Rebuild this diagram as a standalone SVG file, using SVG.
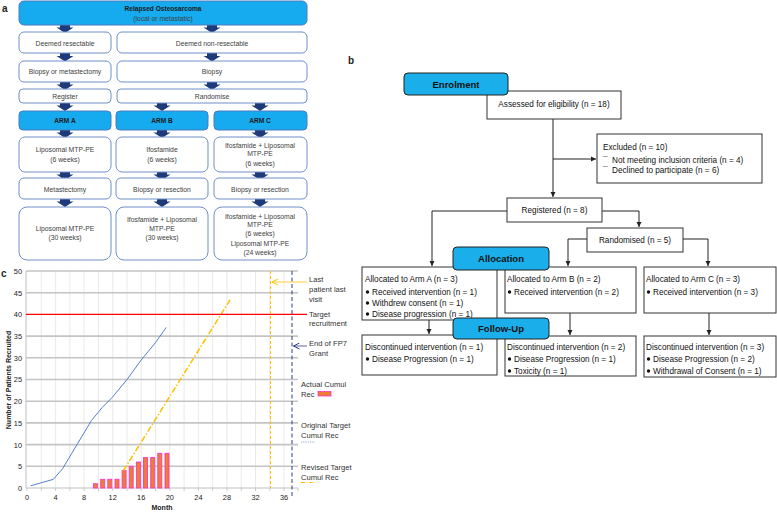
<svg xmlns="http://www.w3.org/2000/svg" xmlns:xlink="http://www.w3.org/1999/xlink" width="777" height="512" viewBox="0 0 777 512">
<style>
text{font-family:"Liberation Sans",Arial,sans-serif;fill:#333}
.pl{font-size:10px;font-weight:bold;fill:#222}
.a{font-size:6.8px;text-anchor:middle;fill:#404040}
.ab{font-size:6.6px;text-anchor:middle;font-weight:bold;fill:#1a1a1a}
.wb{fill:#fff;stroke:#6f8fc8;stroke-width:1}
.bb{fill:#16aaee;stroke:#4a7cc0;stroke-width:1}
.b{font-size:8.2px;fill:#111}
.bc{font-size:8.2px;fill:#111;text-anchor:middle}
.lb{font-size:9.5px;font-weight:bold;fill:#111;text-anchor:middle}
.ob{fill:#fff;stroke:#333;stroke-width:1}
.lab{fill:#1aaeea;stroke:#222;stroke-width:1}
.ln{fill:none;stroke:#222;stroke-width:1}
.c{font-size:7.6px;fill:#333}
.tk{font-size:7.4px;fill:#222;text-anchor:middle}
.yt{font-size:7.4px;fill:#222;text-anchor:end}
.hg{stroke:#c4c4c4;stroke-width:1.6}
.vg{stroke:#e4e4e4;stroke-width:0.8}
</style>
<defs>
<path id="ba" d="M-5,0 H5 V3 H8.5 L0,8.5 L-8.5,3 H-5 Z" fill="#1f3a78"/>
<marker id="ah" markerWidth="6" markerHeight="6" refX="5" refY="3" orient="auto" markerUnits="userSpaceOnUse"><path d="M0,0.5 L5,3 L0,5.5 Z" fill="#222"/></marker>
<marker id="ay" markerWidth="7" markerHeight="7" refX="6" refY="3.5" orient="auto" markerUnits="userSpaceOnUse"><path d="M0,0.5 L6,3.5 L0,6.5" fill="none" stroke="#ffc000" stroke-width="1"/></marker>
<marker id="an" markerWidth="7" markerHeight="7" refX="6" refY="3.5" orient="auto" markerUnits="userSpaceOnUse"><path d="M0,0.5 L6,3.5 L0,6.5" fill="none" stroke="#2f3f8f" stroke-width="1"/></marker>
</defs>

<!-- Panel labels -->
<text class="pl" x="2" y="12">a</text>
<text class="pl" x="348" y="64">b</text>
<text class="pl" x="1" y="277">c</text>

<!-- ===== Panel a ===== -->
<g id="a-connectors">
<use xlink:href="#ba" x="65" y="24.5"/>
<use xlink:href="#ba" x="212" y="24.5"/>
<use xlink:href="#ba" x="65" y="53"/>
<use xlink:href="#ba" x="212" y="53"/>
<use xlink:href="#ba" x="65" y="81.5"/>
<use xlink:href="#ba" x="212" y="81.5"/>
<use xlink:href="#ba" x="65" y="102.5"/>
<use xlink:href="#ba" x="162" y="102.5"/>
<use xlink:href="#ba" x="260" y="102.5"/>
<use xlink:href="#ba" x="65" y="129.5"/>
<use xlink:href="#ba" x="162" y="129.5"/>
<use xlink:href="#ba" x="260" y="129.5"/>
<use xlink:href="#ba" x="65" y="171.5"/>
<use xlink:href="#ba" x="162" y="171.5"/>
<use xlink:href="#ba" x="260" y="171.5"/>
<use xlink:href="#ba" x="65" y="198.5"/>
<use xlink:href="#ba" x="162" y="198.5"/>
<use xlink:href="#ba" x="260" y="198.5"/>
</g>
<g id="a-top"><rect class="bb" x="19" y="1" width="288" height="24" rx="5"/>
<text class="ab" x="163" y="11">Relapsed Osteosarcoma</text>
<text class="a" x="163" y="20.5" fill="#1a1a1a">(local or metastatic)</text></g>
<g id="a-res"><rect class="wb" x="19" y="32" width="92" height="21" rx="5"/><text class="a" x="65" y="45.5">Deemed resectable</text></g>
<g id="a-nonres"><rect class="wb" x="117" y="32" width="190" height="21" rx="5"/><text class="a" x="212" y="45.5">Deemed non-resectable</text></g>
<g id="a-biopmet"><rect class="wb" x="19" y="61" width="92" height="21" rx="5"/><text class="a" x="65" y="74">Biopsy or metastectomy</text></g>
<g id="a-biopsy"><rect class="wb" x="117" y="61" width="190" height="21" rx="5"/><text class="a" x="212" y="74">Biopsy</text></g>
<g id="a-register"><rect class="wb" x="19" y="89" width="92" height="14" rx="4"/><text class="a" x="65" y="98.5">Register</text></g>
<g id="a-randomise"><rect class="wb" x="117" y="89" width="190" height="14" rx="4"/><text class="a" x="212" y="98.5">Randomise</text></g>
<g id="a-armA"><rect class="bb" x="19" y="111" width="92" height="19" rx="4"/><text class="ab" x="65" y="123">ARM A</text></g>
<g id="a-armB"><rect class="bb" x="116" y="111" width="92" height="19" rx="4"/><text class="ab" x="162" y="123">ARM B</text></g>
<g id="a-armC"><rect class="bb" x="214" y="111" width="93" height="19" rx="4"/><text class="ab" x="260" y="123">ARM C</text></g>
<g id="a-A1"><rect class="wb" x="19" y="137" width="92" height="35" rx="6"/><text class="a" x="65" y="151.5">Liposomal MTP-PE</text><text class="a" x="65" y="161.5">(6 weeks)</text></g>
<g id="a-B1"><rect class="wb" x="116" y="137" width="92" height="35" rx="6"/><text class="a" x="162" y="151.5">Ifosfamide</text><text class="a" x="162" y="161.5">(6 weeks)</text></g>
<g id="a-C1"><rect class="wb" x="214" y="137" width="93" height="35" rx="6"/><text class="a" x="260" y="147.5">Ifosfamide + Liposomal</text><text class="a" x="260" y="156">MTP-PE</text><text class="a" x="260" y="165.5">(6 weeks)</text></g>
<g id="a-A2"><rect class="wb" x="19" y="178" width="92" height="21" rx="5"/><text class="a" x="65" y="191.5">Metastectomy</text></g>
<g id="a-B2"><rect class="wb" x="116" y="178" width="92" height="21" rx="5"/><text class="a" x="162" y="191.5">Biopsy or resection</text></g>
<g id="a-C2"><rect class="wb" x="214" y="178" width="93" height="21" rx="5"/><text class="a" x="260" y="191.5">Biopsy or resection</text></g>
<g id="a-A3"><rect class="wb" x="19" y="207" width="92" height="53" rx="8"/><text class="a" x="65" y="230.5">Liposomal MTP-PE</text><text class="a" x="65" y="240">(30 weeks)</text></g>
<g id="a-B3"><rect class="wb" x="116" y="207" width="92" height="53" rx="8"/><text class="a" x="162" y="221.5">Ifosfamide + Liposomal</text><text class="a" x="162" y="230.5">MTP-PE</text><text class="a" x="162" y="239.5">(30 weeks)</text></g>
<g id="a-C3"><rect class="wb" x="214" y="207" width="93" height="53" rx="8"/><text class="a" x="260" y="218.5">Ifosfamide + Liposomal</text><text class="a" x="260" y="227">MTP-PE</text><text class="a" x="260" y="236">(6 weeks)</text><text class="a" x="260" y="245.5">Liposomal MTP-PE</text><text class="a" x="260" y="254.5">(24 weeks)</text></g>

<!-- ===== Panel b ===== -->
<g id="b-connectors">
<path class="ln" d="M553,119 V197" marker-end="url(#ah)"/>
<path class="ln" d="M553,159 H596" marker-end="url(#ah)"/>
<path class="ln" d="M507,211 H432 V266" marker-end="url(#ah)"/>
<path class="ln" d="M602,211 H639 V227" marker-end="url(#ah)"/>
<path class="ln" d="M587,239 H568 V266" marker-end="url(#ah)"/>
<path class="ln" d="M683,239 H708 V266" marker-end="url(#ah)"/>
<path class="ln" d="M429,320 V334" marker-end="url(#ah)"/>
<path class="ln" d="M570,313 V335" marker-end="url(#ah)"/>
<path class="ln" d="M709,313 V335" marker-end="url(#ah)"/>
</g>
<g id="b-assessed"><rect class="ob" x="487" y="91" width="134" height="28"/><text class="bc" x="554" y="107">Assessed for eligibility (n = 18)</text></g>
<g id="b-enrol"><rect class="lab" x="404" y="73" width="104" height="22" rx="4"/><text class="lb" x="456" y="87.5">Enrolment</text></g>
<g id="b-excluded"><rect class="ob" x="597" y="134" width="165" height="49"/>
<text class="b" x="603" y="150">Excluded (n = 10)</text>
<text class="b" x="603" y="163">¯</text><text class="b" x="612" y="163">Not meeting inclusion criteria (n = 4)</text>
<text class="b" x="603" y="173">¯</text><text class="b" x="612" y="173">Declined to participate (n = 6)</text></g>
<g id="b-registered"><rect class="ob" x="507" y="198" width="95" height="24"/><text class="bc" x="554.5" y="213">Registered (n = 8)</text></g>
<g id="b-randomised"><rect class="ob" x="587" y="228" width="96" height="24"/><text class="bc" x="635" y="243">Randomised (n = 5)</text></g>
<g id="b-allocA"><rect class="ob" x="362" y="267" width="135" height="53"/>
<text class="b" x="365" y="282">Allocated to Arm A (n = 3)</text>
<circle cx="367.5" cy="292" r="1.7" fill="#111"/><text class="b" x="372" y="295">Received intervention (n = 1)</text>
<circle cx="367.5" cy="303" r="1.7" fill="#111"/><text class="b" x="372" y="306">Withdrew consent (n = 1)</text>
<circle cx="367.5" cy="314" r="1.7" fill="#111"/><text class="b" x="372" y="317">Disease progression (n = 1)</text></g>
<g id="b-allocB"><rect class="ob" x="505" y="267" width="131" height="46"/>
<text class="b" x="507" y="282">Allocated to Arm B (n = 2)</text>
<circle cx="509.5" cy="292" r="1.7" fill="#111"/><text class="b" x="514" y="295">Received intervention (n = 2)</text></g>
<g id="b-allocC"><rect class="ob" x="644" y="267" width="132" height="46"/>
<text class="b" x="646" y="282">Allocated to Arm C (n = 3)</text>
<circle cx="648.5" cy="292" r="1.7" fill="#111"/><text class="b" x="653" y="295">Received intervention (n = 3)</text></g>
<g id="b-allocation"><rect class="lab" x="453" y="247" width="96" height="23" rx="4"/><text class="lb" x="501" y="261.5">Allocation</text></g>
<g id="b-fuA"><rect class="ob" x="362" y="335" width="135" height="40"/>
<text class="b" x="365" y="350">Discontinued intervention (n = 1)</text>
<circle cx="367.5" cy="359" r="1.7" fill="#111"/><text class="b" x="372" y="362">Disease Progression (n = 1)</text></g>
<g id="b-fuB"><rect class="ob" x="505" y="336" width="131" height="40"/>
<text class="b" x="507" y="350">Discontinued intervention (n = 2)</text>
<circle cx="509.5" cy="359" r="1.7" fill="#111"/><text class="b" x="514" y="362">Disease Progression (n = 1)</text>
<circle cx="509.5" cy="371" r="1.7" fill="#111"/><text class="b" x="514" y="374">Toxicity (n = 1)</text></g>
<g id="b-fuC"><rect class="ob" x="644" y="336" width="132" height="41"/>
<text class="b" x="646" y="350">Discontinued intervention (n = 3)</text>
<circle cx="648.5" cy="359" r="1.7" fill="#111"/><text class="b" x="653" y="362">Disease Progression (n = 2)</text>
<circle cx="648.5" cy="371" r="1.7" fill="#111"/><text class="b" x="653" y="374">Withdrawal of Consent (n = 1)</text></g>
<g id="b-followup"><rect class="lab" x="453" y="318" width="96" height="21" rx="4"/><text class="lb" x="501" y="332">Follow-Up</text></g>

<!-- ===== Panel c ===== -->
<g id="c-grid">
<g class="vg">
<line x1="41.3" y1="271" x2="41.3" y2="488"/><line x1="55.6" y1="271" x2="55.6" y2="488"/><line x1="69.8" y1="271" x2="69.8" y2="488"/><line x1="84.1" y1="271" x2="84.1" y2="488"/><line x1="98.4" y1="271" x2="98.4" y2="488"/><line x1="112.7" y1="271" x2="112.7" y2="488"/><line x1="127" y1="271" x2="127" y2="488"/><line x1="141.2" y1="271" x2="141.2" y2="488"/><line x1="155.5" y1="271" x2="155.5" y2="488"/><line x1="169.8" y1="271" x2="169.8" y2="488"/><line x1="184.1" y1="271" x2="184.1" y2="488"/><line x1="198.4" y1="271" x2="198.4" y2="488"/><line x1="212.6" y1="271" x2="212.6" y2="488"/><line x1="226.9" y1="271" x2="226.9" y2="488"/><line x1="241.2" y1="271" x2="241.2" y2="488"/><line x1="255.5" y1="271" x2="255.5" y2="488"/><line x1="269.8" y1="271" x2="269.8" y2="488"/><line x1="284" y1="271" x2="284" y2="488"/>
</g>
<g class="hg">
<line x1="26" y1="466.3" x2="298" y2="466.3"/><line x1="26" y1="444.6" x2="298" y2="444.6"/><line x1="26" y1="422.9" x2="298" y2="422.9"/><line x1="26" y1="401.2" x2="298" y2="401.2"/><line x1="26" y1="379.5" x2="298" y2="379.5"/><line x1="26" y1="357.8" x2="298" y2="357.8"/><line x1="26" y1="336.1" x2="298" y2="336.1"/><line x1="26" y1="292.7" x2="298" y2="292.7"/><line x1="26" y1="271" x2="298" y2="271"/>
</g>
<line x1="26" y1="271" x2="26" y2="488" stroke="#bfbfbf" stroke-width="1"/>
<line x1="26" y1="488" x2="298" y2="488" stroke="#bfbfbf" stroke-width="1"/>
<g stroke="#bfbfbf" stroke-width="0.8">
<line x1="27" y1="488" x2="27" y2="491"/><line x1="41.3" y1="488" x2="41.3" y2="491"/><line x1="55.6" y1="488" x2="55.6" y2="491"/><line x1="69.8" y1="488" x2="69.8" y2="491"/><line x1="84.1" y1="488" x2="84.1" y2="491"/><line x1="98.4" y1="488" x2="98.4" y2="491"/><line x1="112.7" y1="488" x2="112.7" y2="491"/><line x1="127" y1="488" x2="127" y2="491"/><line x1="141.2" y1="488" x2="141.2" y2="491"/><line x1="155.5" y1="488" x2="155.5" y2="491"/><line x1="169.8" y1="488" x2="169.8" y2="491"/><line x1="184.1" y1="488" x2="184.1" y2="491"/><line x1="198.4" y1="488" x2="198.4" y2="491"/><line x1="212.6" y1="488" x2="212.6" y2="491"/><line x1="226.9" y1="488" x2="226.9" y2="491"/><line x1="241.2" y1="488" x2="241.2" y2="491"/><line x1="255.5" y1="488" x2="255.5" y2="491"/><line x1="269.8" y1="488" x2="269.8" y2="491"/><line x1="284" y1="488" x2="284" y2="491"/><line x1="298" y1="488" x2="298" y2="491"/>
</g>
</g>
<g id="c-axes-text">
<text class="yt" x="22" y="274">50</text><text class="yt" x="22" y="295.5">45</text><text class="yt" x="22" y="317">40</text><text class="yt" x="22" y="339">35</text><text class="yt" x="22" y="360.5">30</text><text class="yt" x="22" y="382">25</text><text class="yt" x="22" y="404">20</text><text class="yt" x="22" y="425.5">15</text><text class="yt" x="22" y="447.5">10</text><text class="yt" x="22" y="469">5</text><text class="yt" x="22" y="491">0</text>
<text class="tk" x="27" y="500">0</text><text class="tk" x="55.6" y="500">4</text><text class="tk" x="84.1" y="500">8</text><text class="tk" x="112.7" y="500">12</text><text class="tk" x="141.2" y="500">16</text><text class="tk" x="169.8" y="500">20</text><text class="tk" x="198.4" y="500">24</text><text class="tk" x="226.9" y="500">28</text><text class="tk" x="255.5" y="500">32</text><text class="tk" x="284" y="500">36</text>
<text x="162" y="510" style="font-size:7px;font-weight:bold;fill:#222;text-anchor:middle">Month</text>
<text transform="translate(10.5,380) rotate(-90)" style="font-size:7px;font-weight:bold;fill:#222;text-anchor:middle">Number of Patients Recruited</text>
</g>
<g id="c-data">
<g fill="#ed7d31" stroke="#ff33cc" stroke-width="0.9">
<rect x="93.5" y="483.7" width="4" height="4.3"/><rect x="100.7" y="479.3" width="4" height="8.7"/><rect x="107.8" y="479.3" width="4" height="8.7"/><rect x="115" y="479.3" width="4" height="8.7"/><rect x="122.1" y="470.6" width="4" height="17.4"/><rect x="129.2" y="466.3" width="4" height="21.7"/><rect x="136.4" y="462" width="4" height="26"/><rect x="143.5" y="457.6" width="4" height="30.4"/><rect x="150.7" y="457.6" width="4" height="30.4"/><rect x="157.8" y="453.3" width="4" height="34.7"/><rect x="165" y="453.3" width="4" height="34.7"/>
</g>
<polyline fill="none" stroke="#4472c4" stroke-width="0.9" points="30.6,485.8 53.4,479.3 62.7,468.5 77,444.6 91.3,420.7 102,407.7 112.7,396.9 127,379.5 141.2,360 155.5,342.6 166.2,327.4"/>
<line x1="123.4" y1="470.6" x2="230.5" y2="299.2" stroke="#ffc000" stroke-width="1.5" stroke-dasharray="6 2 1.5 2"/>
<line x1="26" y1="314.4" x2="307" y2="314.4" stroke="#ff0000" stroke-width="1.3"/>
<line x1="270.5" y1="271" x2="270.5" y2="488" stroke="#ffc000" stroke-width="1" stroke-dasharray="3 2"/>
<line x1="292" y1="271" x2="292" y2="496" stroke="#2f3f8f" stroke-width="1" stroke-dasharray="4 2.5"/>
</g>
<g id="c-annotations">
<line x1="307" y1="282" x2="272" y2="282" stroke="#ffc000" stroke-width="0.8" marker-end="url(#ay)"/>
<text class="c" x="309" y="281.5">Last</text><text class="c" x="309" y="292">patient last</text><text class="c" x="309" y="301.5">visit</text>
<text class="c" x="309" y="316.5">Target</text><text class="c" x="309" y="325.5">recruitment</text>
<line x1="307" y1="346" x2="293.5" y2="346" stroke="#2f3f8f" stroke-width="0.8" marker-end="url(#an)"/>
<text class="c" x="309" y="345.5">End of FP7</text><text class="c" x="309" y="355.5">Grant</text>
</g>
<g id="c-legend">
<text class="c" x="301" y="386.5">Actual Cumul</text><text class="c" x="301" y="396.5">Rec</text>
<rect x="318" y="391.5" width="13" height="4.5" fill="#ed7d31" stroke="#ff33cc" stroke-width="0.8"/>
<text class="c" x="301" y="427.5">Original Target</text><text class="c" x="301" y="437.5">Cumul Rec</text>
<line x1="301" y1="442" x2="315" y2="442" stroke="#8faadc" stroke-width="1" stroke-dasharray="1 0.8"/>
<text class="c" x="301" y="469.5">Revised Target</text><text class="c" x="301" y="479.5">Cumul Rec</text>
<line x1="301" y1="482.5" x2="315" y2="482.5" stroke="#ffc000" stroke-width="1" stroke-dasharray="4 1.5 1 1.5"/>
</g>
</svg>
